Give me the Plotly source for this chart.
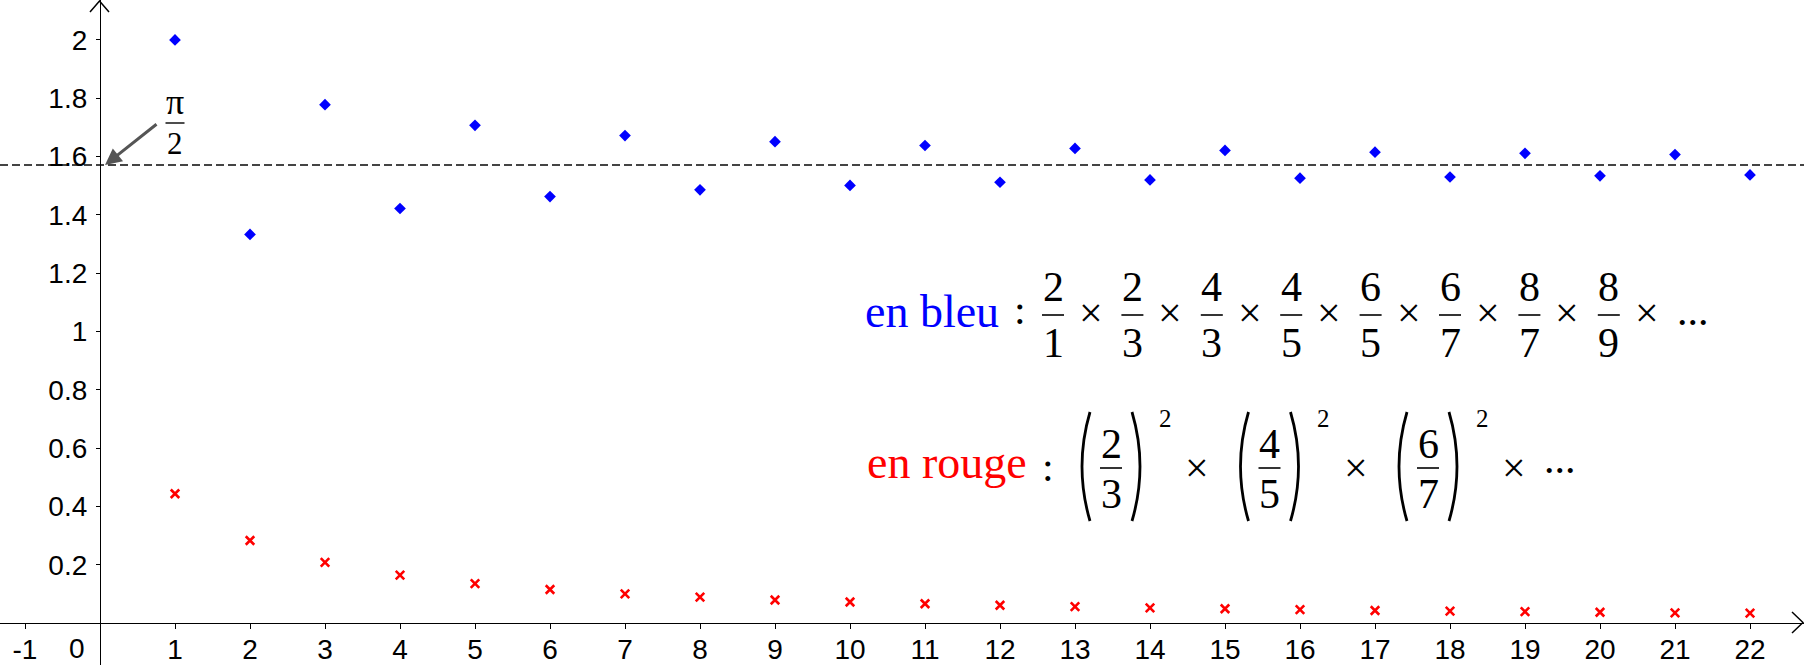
import plotly.graph_objects as go

W, H = 1804, 665

# ---------------- data ----------------
n_values = list(range(1, 23))
blue_values = [2.0, 1.333, 1.778, 1.422, 1.707, 1.463, 1.672, 1.486, 1.651, 1.501, 1.638,
               1.512, 1.628, 1.520, 1.621, 1.526, 1.615, 1.530, 1.611, 1.534, 1.607, 1.537]
red_values = [0.444, 0.284, 0.209, 0.165, 0.136, 0.116, 0.101, 0.090, 0.080, 0.073, 0.067,
              0.062, 0.057, 0.053, 0.050, 0.047, 0.044, 0.042, 0.040, 0.038, 0.036, 0.035]
x_tick_values = [-1] + list(range(1, 23))
x_tick_labels = ["-1"] + [str(i) for i in range(1, 23)]
y_tick_values = [0.2, 0.4, 0.6, 0.8, 1.0, 1.2, 1.4, 1.6, 1.8, 2.0]
y_tick_labels = ["0.2", "0.4", "0.6", "0.8", "1", "1.2", "1.4", "1.6", "1.8", "2"]
limit_value = 1.5708  # pi / 2
limit_label = ("π", "2")
blue_label = "en bleu"
red_label = "en rouge"
blue_fractions = [("2", "1"), ("2", "3"), ("4", "3"), ("4", "5"),
                  ("6", "5"), ("6", "7"), ("8", "7"), ("8", "9")]
red_fractions = [("2", "3"), ("4", "5"), ("6", "7")]

# ---------------- axes geometry (window pixels -> data) ----------------
PX_PER_X = 75.0
ORIGIN_X = 100.0
PX_PER_Y = 291.7
ORIGIN_Y = 623.3
X0, X1 = (0 - ORIGIN_X) / PX_PER_X, (W - ORIGIN_X) / PX_PER_X
Y0, Y1 = (ORIGIN_Y - H) / PX_PER_Y, (ORIGIN_Y - 0) / PX_PER_Y
SERIF = "Liberation Serif"
SANS = "Liberation Sans"


def pxx(p):
    return p / W


def pxy(p):
    return 1 - p / H


fig = go.Figure()
fig.add_trace(go.Scatter(x=n_values, y=blue_values, mode="markers",
                         marker=dict(symbol="diamond", size=9, color="#0000ff",
                                     line=dict(width=0)),
                         showlegend=False, hoverinfo="x+y"))
fig.add_trace(go.Scatter(x=n_values, y=red_values, mode="markers",
                         marker=dict(symbol="x-thin", size=8.5, color="#ff0000",
                                     line=dict(width=2.6, color="#ff0000")),
                         showlegend=False, hoverinfo="x+y"))

shapes = []
annotations = []

# dashed limit line
shapes.append(dict(type="line", xref="paper", x0=0, x1=1, yref="y", y0=limit_value, y1=limit_value,
                   line=dict(color="#444444", width=2, dash="8px,4px"), layer="below"))

# axis arrow chevrons
shapes.append(dict(type="path", xref="paper", yref="paper",
                   path=f"M {pxx(90)},{pxy(12)} L {pxx(99.5)},{pxy(1)} L {pxx(109)},{pxy(12)}",
                   line=dict(color="black", width=1.5)))
shapes.append(dict(type="path", xref="paper", yref="paper",
                   path=f"M {pxx(1792)},{pxy(612)} L {pxx(1803)},{pxy(622.5)} L {pxx(1792)},{pxy(633)}",
                   line=dict(color="black", width=1.5)))


def text(s, x, y, size, color="black", family=SERIF, xanchor="center", yanchor="middle"):
    annotations.append(dict(text=s, x=pxx(x), y=pxy(y), xref="paper", yref="paper",
                            xanchor=xanchor, yanchor=yanchor, showarrow=False,
                            font=dict(family=family, size=size, color=color)))


def bar(xc, y, w, width=1.6):
    shapes.append(dict(type="line", xref="paper", yref="paper",
                       x0=pxx(xc - w / 2), x1=pxx(xc + w / 2), y0=pxy(y), y1=pxy(y),
                       line=dict(color="black", width=width)))


def paren(xc, ytop, ybot, left=True):
    dx = -1 if left else 1
    xend = xc - dx * 7
    xctrl = xc + dx * 9
    path = (f"M {pxx(xend)},{pxy(ytop)} Q {pxx(xctrl)},{pxy((ytop + ybot) / 2)} "
            f"{pxx(xend)},{pxy(ybot)}")
    shapes.append(dict(type="path", xref="paper", yref="paper", path=path,
                       line=dict(color="black", width=2.8)))


# "0" origin label
text("0", 77, 648, 28, family=SANS)

# pi/2 label and arrow
text(limit_label[0], 175, 102, 36)
bar(175, 123, 19, 1.4)
text(limit_label[1], 175, 143, 31)
annotations.append(dict(x=0.0667, y=limit_value, xref="x", yref="y", text="",
                        showarrow=True, ax=53, ay=-42, arrowhead=2, arrowsize=1.1,
                        arrowwidth=3, arrowcolor="#555555"))

# blue formula
DIG = 42
text(blue_label, 863, 311, 46, color="#0000ff", xanchor="left")
text(":", 1020, 310, 42)
step = 79.4
for k, (num, den) in enumerate(blue_fractions):
    xc = 1053 + step * k
    text(num, xc, 287, DIG)
    bar(xc, 315, 22)
    text(den, xc, 343, DIG)
    text("×", xc + 38, 313, DIG)
text("...", 1693, 311, DIG)

# red formula
text(red_label, 865, 462, 46, color="#ff0000", xanchor="left")
text(":", 1048, 467, 42)
rstep = 158.5
for k, (num, den) in enumerate(red_fractions):
    xc = 1111 + rstep * k
    text(num, xc, 444, DIG)
    bar(xc, 468, 22)
    text(den, xc, 494, DIG)
    paren(xc - 28, 412, 521, left=True)
    paren(xc + 28, 412, 521, left=False)
    text("2", xc + 54, 418, 25)
    text("×", xc + 86, 468, DIG)
text("...", 1560, 459, DIG)

fig.update_layout(
    width=W, height=H, margin=dict(l=0, r=0, t=0, b=0, autoexpand=False),
    paper_bgcolor="white", plot_bgcolor="white",
    shapes=shapes, annotations=annotations,
    xaxis=dict(range=[X0, X1], showgrid=False, zeroline=False, showline=True,
               linecolor="black", linewidth=1.3, ticks="outside", ticklen=5, tickwidth=1,
               tickcolor="black", tickvals=x_tick_values, ticktext=x_tick_labels,
               tickfont=dict(family=SANS, size=28, color="black"), automargin=False,
               ticklabelstandoff=-4,
               anchor="free", position=(0 - Y0) / (Y1 - Y0)),
    yaxis=dict(range=[Y0, Y1], showgrid=False, zeroline=False, showline=True,
               linecolor="black", linewidth=1.3, ticks="outside", ticklen=4, tickwidth=1,
               tickcolor="black", tickvals=y_tick_values, ticktext=y_tick_labels,
               tickfont=dict(family=SANS, size=28, color="black"), automargin=False,
               ticklabelstandoff=3,
               anchor="free", position=(0 - X0) / (X1 - X0)),
)

fig.write_html(
    "out.html",
    config={"displayModeBar": False},
    post_script="document.body.style.margin='0px';document.body.style.overflow='hidden';",
)
